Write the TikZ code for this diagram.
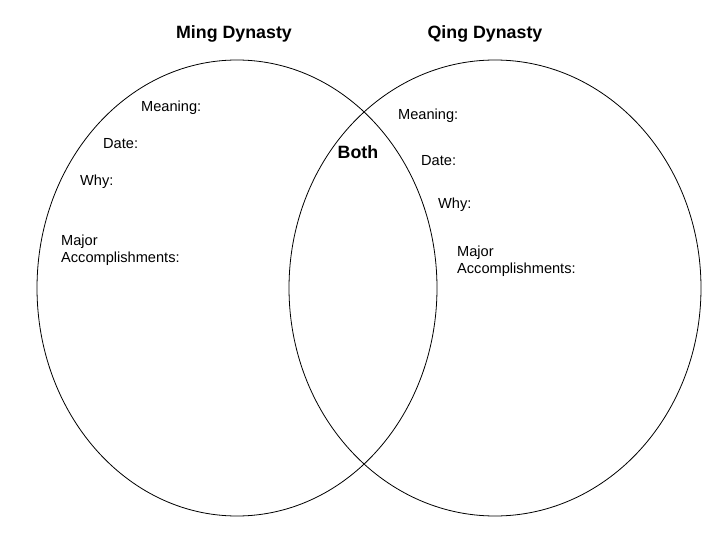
\documentclass[tikz,border=0pt]{standalone}
\usepackage{fontspec}
\setmainfont{Liberation Sans}

\begin{document}
\begin{tikzpicture}[x=1pt,y=-1pt]
\tikzstyle{title}=[font=\fontsize{17.8}{20}\selectfont\bfseries,anchor=base,inner sep=0pt]
\tikzstyle{field}=[font=\fontsize{14.6}{17}\selectfont,anchor=base west,inner sep=0pt,align=left]
\tikzstyle{every node}=[black]
\useasboundingbox (0,0) rectangle (720,540);

\draw[line width=0.8pt] (237,288) ellipse [x radius=200pt, y radius=228pt];
\draw[line width=0.8pt] (495,288) ellipse [x radius=206pt, y radius=228pt];

\node[title](ming) at (234,39) {Ming Dynasty};
\node[title](qing) at (485,39) {Qing Dynasty};
\node[title](both) at (358,159) {Both};

\node[field](mmean) at (141,112) {Meaning:};
\node[field](mdate) at (103,149) {Date:};
\node[field](mwhy) at (80,186) {Why:};
\node[field](mmajor) at (61,262) {Major\\Accomplishments:};

\node[field](qmean) at (398,120) {Meaning:};
\node[field](qdate) at (421,166) {Date:};
\node[field](qwhy) at (438,209) {Why:};
\node[field](qmajor) at (457,273) {Major\\Accomplishments:};
\end{tikzpicture}
\end{document}
